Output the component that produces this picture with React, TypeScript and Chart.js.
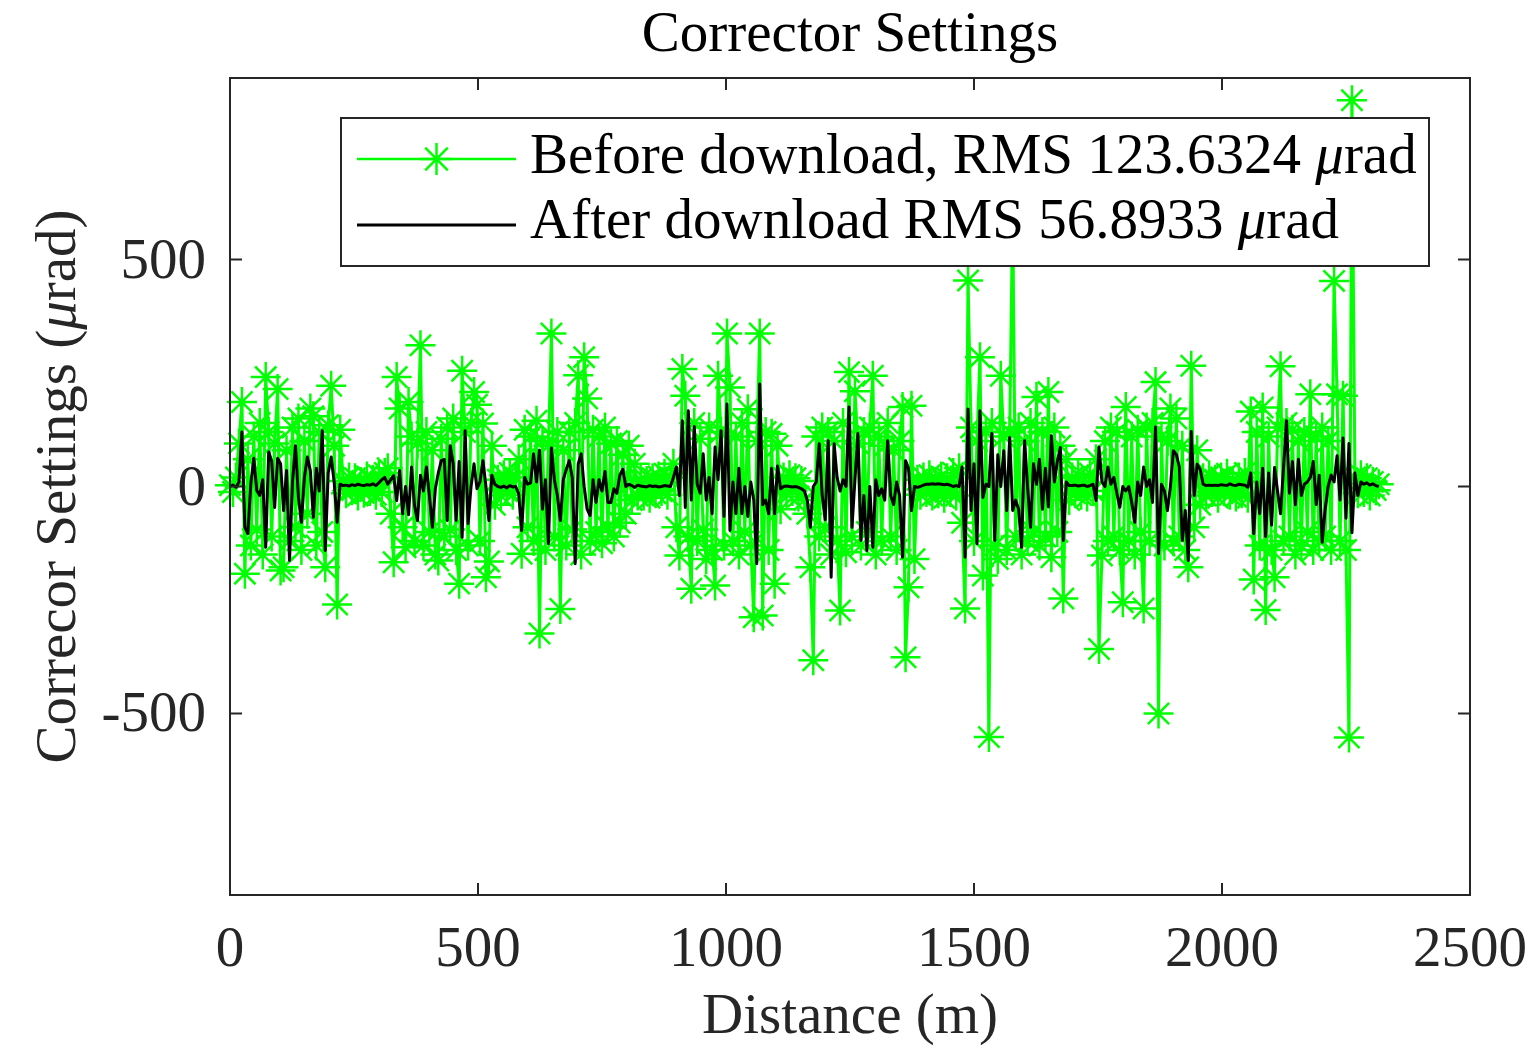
import React, { useEffect, useRef } from "react";
import { Chart, registerables } from "chart.js";

Chart.register(...registerables);

// ---------------- data ----------------
const distance = [
  0, 6, 12, 18, 24, 30, 36, 42, 48, 54, 60, 66, 72, 78, 84, 90, 96, 102, 108, 114,
  120, 126, 132, 138, 144, 150, 156, 162, 168, 174, 180, 186, 192, 198, 204, 210, 216, 222, 228, 234,
  240, 246, 252, 258, 264, 270, 276, 282, 288, 294, 300, 306, 312, 318, 324, 330, 336, 342, 348, 354,
  360, 366, 372, 378, 384, 390, 396, 402, 408, 414, 420, 426, 432, 438, 444, 450, 456, 462, 468, 474,
  480, 486, 492, 498, 504, 510, 516, 522, 528, 534, 540, 546, 552, 558, 564, 570, 576, 582, 588, 594,
  600, 606, 612, 618, 624, 630, 636, 642, 648, 654, 660, 666, 672, 678, 684, 690, 696, 702, 708, 714,
  720, 726, 732, 738, 744, 750, 756, 762, 768, 774, 780, 786, 792, 798, 804, 810, 816, 822, 828, 834,
  840, 846, 852, 858, 864, 870, 876, 882, 888, 894, 900, 906, 912, 918, 924, 930, 936, 942, 948, 954,
  960, 966, 972, 978, 984, 990, 996, 1002, 1008, 1014, 1020, 1026, 1032, 1038, 1044, 1050, 1056, 1062, 1068, 1074,
  1080, 1086, 1092, 1098, 1104, 1110, 1116, 1122, 1128, 1134, 1140, 1146, 1152, 1158, 1164, 1170, 1176, 1182, 1188, 1194,
  1200, 1206, 1212, 1218, 1224, 1230, 1236, 1242, 1248, 1254, 1260, 1266, 1272, 1278, 1284, 1290, 1296, 1302, 1308, 1314,
  1320, 1326, 1332, 1338, 1344, 1350, 1356, 1362, 1368, 1374, 1380, 1386, 1392, 1398, 1404, 1410, 1416, 1422, 1428, 1434,
  1440, 1446, 1452, 1458, 1464, 1470, 1476, 1482, 1488, 1494, 1500, 1506, 1512, 1518, 1524, 1530, 1536, 1542, 1548, 1554,
  1560, 1566, 1572, 1578, 1584, 1590, 1596, 1602, 1608, 1614, 1620, 1626, 1632, 1638, 1644, 1650, 1656, 1662, 1668, 1674,
  1680, 1686, 1692, 1698, 1704, 1710, 1716, 1722, 1728, 1734, 1740, 1746, 1752, 1758, 1764, 1770, 1776, 1782, 1788, 1794,
  1800, 1806, 1812, 1818, 1824, 1830, 1836, 1842, 1848, 1854, 1860, 1866, 1872, 1878, 1884, 1890, 1896, 1902, 1908, 1914,
  1920, 1926, 1932, 1938, 1944, 1950, 1956, 1962, 1968, 1974, 1980, 1986, 1992, 1998, 2004, 2010, 2016, 2022, 2028, 2034,
  2040, 2046, 2052, 2058, 2064, 2070, 2076, 2082, 2088, 2094, 2100, 2106, 2112, 2118, 2124, 2130, 2136, 2142, 2148, 2154,
  2160, 2166, 2172, 2178, 2184, 2190, 2196, 2202, 2208, 2214, 2220, 2226, 2232, 2238, 2244, 2250, 2256, 2262, 2268, 2274,
  2280, 2286, 2292, 2298, 2304, 2310, 2316,
];

const beforeValues = [
  // 0 - 222
  3, -12, 20, 95, 186, -192, 60, -130, 110, -95, 140, -150, 241, 120, -110, 95, 215, -185, -178, 80,
  -120, 130, -90, 150, -140, 100, -60, 172, 155, -130, 120, -100, -178, 135, 222, 90, -260, 125,
  // 228 - 312
  12, -15, 20, -8, 18, -20, 10, -14, 22, -10, 15, -18, 25, -12, 30,
  // 318 - 534
  40, -60, -167, 241, 172, -90, -134, 186, 110, -120, 95, 311, -130, 120, -100, 80, -150, -163, 105, -110,
  130, -95, 150, -140, -214, 255, 120, -130, 140, 208, 180, -120, 139, -200, -165, 90, -40,
  // 540 - 576
  15, -20, 25, -10, 30, -18, 20,
  // 582 - 822
  60, -148, 125, -90, 110, -120, 145, -324, 100, -140, 90, 337, -110, 120, -270, 80, -130, 120, -95, 140,
  245, -150, 285, 194, -120, 125, -100, 110, -125, 130, -90, 95, -110, 100, -80, 70, -60, 90, -30, 50, -20,
  // 828 - 888
  15, -20, 12, -25, 18, -15, 22, -10, 28, -18, 20,
  // 894 - 1110
  50, -90, -152, 259, 200, -110, -225, 140, -120, 105, -95, -160, 130, -140, -218, 244, 120, -130, 337, 218,
  -120, 110, -150, 140, -100, 170, -130, -288, 100, 337, -284, 120, -140, 116, -214, 90, -50,
  // 1116 - 1158
  20, -15, 25, -10, 18, -22, 12, -30,
  // 1164 - 1380
  -60, -178, -383, 110, -110, 130, -90, 120, -150, 100, -120, -273, 140, -145, 252, -110, 210, 95, -130, 120,
  -100, 130, 244, -150, 110, -120, 90, 140, -110, 80, -140, 100, 175, -376, -222, 178, -160,
  // 1386 - 1464
  15, -18, 20, -12, 25, -20, 10, -15, 22, -25, 18, -12, 30, -20,
  // 1470 - 1692
  40, -80, -269, 454, 130, -120, 100, 285, -196, 120, -552, 140, -130, -160, 244, 110, -140, 120, 620, -110,
  130, -150, 100, -120, 140, -100, 197, -130, 120, -110, 208, -156, 130, -100, 90, -247, 60, -30,
  // 1698 - 1740
  20, -15, 25, -18, 12, -22, 28, -10,
  // 1746 - 1956
  60, -358, -152, 100, -120, 130, -110, 120, -140, -255, 175, -120, 110, -150, 125, -100, -269, 130, -120, 140,
  230, -500, 110, -130, 100, 172, -120, 150, -110, 90, -140, -178, 266, -90, 80, -40,
  // 1962 - 2052
  18, -20, 25, -12, 15, -25, 20, -10, 28, -18, 12, -22, 20, -15, 30, -25,
  // 2058 - 2262
  165, -205, 120, -130, 174, -272, 110, -140, -200, 130, 265, -120, 140, -110, 125, -150, 100, -130, 120, -100,
  203, -140, 110, -120, 130, -110, 100, -140, 453, 203, -120, 200, -140, -553, 851,
  // 2268 - 2316
  20, -15, 25, -12, 18, -20, 10, -8, 5,
];

const afterValues = [
  // 0 - 222
  0, 3, -2, 10, 120, -90, -104, 6, 62, -9, -20, 15, -134, 76, 56, -46, 62, 50, -53, 35,
  -163, 10, 90, -24, -79, 20, 65, 35, -68, 40, -10, 123, -141, 30, 65, 10, -79, 5,
  // 228 - 312
  2, 3, 1, 4, 2, 5, 3, 2, 4, 3, 6, 2, 8, 15, 20,
  // 318 - 534
  5, 15, 24, -31, 35, -60, 0, -62, 43, -42, -75, 25, -10, 43, -20, -90, -5, 30, 57, 60,
  -75, 90, 50, -75, 55, -112, 123, -82, 0, 50, -5, 10, 57, 0, -75, 25, 5,
  // 540 - 576
  0, -2, 1, -3, 2, -1, 0,
  // 582 - 822
  -16, -97, 20, 5, 8, 72, 10, 80, -50, 15, -126, 85, 15, -20, -75, 15, 38, 57, 20, -170,
  50, 72, 0, -50, -64, 15, -35, 15, -10, 33, -35, -35, -5, -15, 25, 38, 0, 5, 2, -2, 3,
  // 828 - 888
  1, 0, -1, 2, 0, 1, -1, 0, 2, 1, 0,
  // 894 - 1110
  20, 43, -20, 145, -46, 167, -30, 132, 5, -15, 72, -30, 20, -60, 87, 15, 123, -66, 182, -97,
  10, -60, 40, -60, 0, -66, 10, -30, -170, 226, -40, -30, -60, 40, -60, 45, -5,
  // 1116 - 1158
  0, 1, 0, -1, 0, -2, -5, -10,
  // 1164 - 1380
  -31, -90, 0, 10, 94, -20, -73, 101, -200, 94, 20, -10, 15, 0, 175, -90, 15, 117, -119, -20,
  -141, 0, -134, 15, -20, -5, -30, 101, -20, -40, 10, -20, -156, 57, 40, -53, 0,
  // 1386 - 1464
  -2, 0, 3, 5, 5, 6, 5, 6, 5, 4, 5, 3, 0, 2,
  // 1470 - 1692
  0, 43, -156, 171, -53, 50, -126, 167, -24, 5, 0, 117, -119, 70, 0, 79, -53, 108, -53, -30,
  -50, -134, 101, 0, -90, 50, 5, 60, -50, 40, -45, 112, 10, 55, 86, -119, 10, 2,
  // 1698 - 1740
  2, 3, 1, 2, 3, 0, 2, 5,
  // 1746 - 1956
  -31, 87, 10, 0, 43, 5, 20, -15, -46, 0, -10, 0, -35, -79, 10, -20, 43, 0, 15, -35,
  131, -148, 5, -10, -53, 0, 79, 70, 43, -119, -53, -163, 121, -20, 49, 38,
  // 1962 - 2052
  5, 2, 3, 2, 3, 2, 4, 3, 2, 6, 3, 2, 5, 4, 3, -2,
  // 2058 - 2262
  30, -104, 10, -60, 40, -110, 30, -85, 42, -10, -60, 40, 145, -15, 55, -40, 60, -20, 5, 10,
  20, 55, -40, 25, -123, -50, 0, 25, 10, 68, -30, 107, -70, 95, -102,
  // 2268 - 2316
  30, -20, 10, 5, 8, 3, 6, 2, 0,
];

const xTickValues = [0, 500, 1000, 1500, 2000, 2500];
const yTickValues = [-500, 0, 500];
const xRange = [0, 2500];
const yRange = [-900, 900];

const titleText = "Corrector Settings";
const xTitleText = "Distance (m)";
const yTitleParts = [
  { t: "Correcor Settings (", italic: false },
  { t: "μ", italic: true },
  { t: "rad)", italic: false },
];
const legendRows = [
  [
    { t: "Before download, RMS 123.6324 ", italic: false },
    { t: "μ", italic: true },
    { t: "rad", italic: false },
  ],
  [
    { t: "After download RMS 56.8933 ", italic: false },
    { t: "μ", italic: true },
    { t: "rad", italic: false },
  ],
];

// ---------------- styles ----------------
const FONT_FAMILY = '"Liberation Serif", "Times New Roman", serif';
const FONT_SIZE = 57;
const AXIS_COLOR = "#262626";
const GREEN = "#00ff00";
const BLACK = "#000000";
const W = 1538;
const H = 1053;

type Part = { t: string; italic: boolean };

function fontFor(italic: boolean) {
  return `${italic ? "italic " : ""}${FONT_SIZE}px ${FONT_FAMILY}`;
}

function drawParts(
  ctx: CanvasRenderingContext2D,
  parts: Part[],
  x: number,
  y: number,
  align: "left" | "center" | "right"
) {
  const widths = parts.map((p) => {
    ctx.font = fontFor(p.italic);
    return ctx.measureText(p.t).width;
  });
  const total = widths.reduce((a, b) => a + b, 0);
  let cx = align === "left" ? x : align === "center" ? x - total / 2 : x - total;
  ctx.textAlign = "left";
  parts.forEach((p, i) => {
    ctx.font = fontFor(p.italic);
    ctx.fillText(p.t, cx, y);
    cx += widths[i];
  });
}

function drawStar(ctx: CanvasRenderingContext2D, x: number, y: number, r: number) {
  const d = r * Math.SQRT1_2;
  ctx.beginPath();
  ctx.moveTo(x - r, y);
  ctx.lineTo(x + r, y);
  ctx.moveTo(x, y - r);
  ctx.lineTo(x, y + r);
  ctx.moveTo(x - d, y - d);
  ctx.lineTo(x + d, y + d);
  ctx.moveTo(x - d, y + d);
  ctx.lineTo(x + d, y - d);
  ctx.stroke();
}

const overlayPlugin = {
  id: "matlabOverlay",
  afterDatasetsDraw(chart: any) {
    const { ctx, chartArea: a, scales } = chart;
    const xs = scales.x;
    const ys = scales.y;
    ctx.save();

    // frame
    ctx.strokeStyle = AXIS_COLOR;
    ctx.lineWidth = 2;
    ctx.strokeRect(a.left, a.top, a.right - a.left, a.bottom - a.top);

    // inner ticks
    const tl = 12;
    ctx.beginPath();
    xTickValues.forEach((v) => {
      const px = xs.getPixelForValue(v);
      ctx.moveTo(px, a.bottom);
      ctx.lineTo(px, a.bottom - tl);
      ctx.moveTo(px, a.top);
      ctx.lineTo(px, a.top + tl);
    });
    yTickValues.forEach((v) => {
      const py = ys.getPixelForValue(v);
      ctx.moveTo(a.left, py);
      ctx.lineTo(a.left + tl, py);
      ctx.moveTo(a.right, py);
      ctx.lineTo(a.right - tl, py);
    });
    ctx.stroke();

    // tick labels
    ctx.fillStyle = AXIS_COLOR;
    ctx.font = fontFor(false);
    ctx.textBaseline = "alphabetic";
    ctx.textAlign = "center";
    xTickValues.forEach((v) => {
      ctx.fillText(String(v), xs.getPixelForValue(v), a.bottom + 71);
    });
    ctx.textAlign = "right";
    yTickValues.forEach((v) => {
      ctx.fillText(String(v), a.left - 24, ys.getPixelForValue(v) + 18);
    });

    // title and x label
    const cx = (a.left + a.right) / 2;
    ctx.textAlign = "center";
    ctx.fillStyle = "#000000";
    ctx.fillText(titleText, cx, a.top - 27);
    ctx.fillStyle = AXIS_COLOR;
    ctx.fillText(xTitleText, cx, a.bottom + 138);

    // y label
    ctx.save();
    ctx.translate(a.left - 155, (a.top + a.bottom) / 2);
    ctx.rotate(-Math.PI / 2);
    drawParts(ctx, yTitleParts, 0, 0, "center");
    ctx.restore();

    // legend box
    const bx = a.left + 111;
    const by = a.top + 40;
    const bw = 1088;
    const bh = 148;
    ctx.fillStyle = "#ffffff";
    ctx.fillRect(bx, by, bw, bh);
    ctx.strokeStyle = AXIS_COLOR;
    ctx.lineWidth = 2;
    ctx.strokeRect(bx, by, bw, bh);

    const lineX0 = bx + 16;
    const lineX1 = bx + 175;
    const row1Y = by + 41;
    const row2Y = by + 107;

    ctx.lineCap = "butt";
    ctx.strokeStyle = GREEN;
    ctx.lineWidth = 2.5;
    ctx.beginPath();
    ctx.moveTo(lineX0, row1Y);
    ctx.lineTo(lineX1, row1Y);
    ctx.stroke();
    drawStar(ctx, (lineX0 + lineX1) / 2, row1Y, 16);

    ctx.strokeStyle = BLACK;
    ctx.lineWidth = 3;
    ctx.beginPath();
    ctx.moveTo(lineX0, row2Y);
    ctx.lineTo(lineX1, row2Y);
    ctx.stroke();

    ctx.fillStyle = "#000000";
    ctx.textBaseline = "alphabetic";
    drawParts(ctx, legendRows[0], bx + 189, row1Y + 14, "left");
    drawParts(ctx, legendRows[1], bx + 189, row2Y + 13, "left");

    ctx.restore();
  },
};

export default function App() {
  const canvasRef = useRef<HTMLCanvasElement | null>(null);

  useEffect(() => {
    const canvas = canvasRef.current;
    if (!canvas) return;
    const beforePoints = distance.map((d, i) => ({ x: d, y: beforeValues[i] }));
    const afterPoints = distance.map((d, i) => ({ x: d, y: afterValues[i] }));

    const chart = new Chart(canvas, {
      type: "line",
      data: {
        datasets: [
          {
            label: "Before download",
            data: beforePoints,
            borderColor: GREEN,
            backgroundColor: GREEN,
            borderWidth: 3,
            pointStyle: "star",
            pointRadius: 15,
            pointBorderColor: GREEN,
            pointBorderWidth: 2.5,
            pointBackgroundColor: GREEN,
            pointHoverRadius: 15,
            fill: false,
            tension: 0,
            borderJoinStyle: "round",
            order: 1,
            clip: false,
          } as any,
          {
            label: "After download",
            data: afterPoints,
            borderColor: BLACK,
            backgroundColor: BLACK,
            borderWidth: 3,
            pointRadius: 0,
            pointHoverRadius: 0,
            fill: false,
            tension: 0,
            borderJoinStyle: "round",
            order: 0,
            clip: false,
          } as any,
        ],
      },
      options: {
        animation: false,
        responsive: false,
        maintainAspectRatio: false,
        devicePixelRatio: 1,
        events: [],
        layout: { padding: { left: 230, top: 78, right: W - 1470, bottom: H - 895 } },
        scales: {
          x: { type: "linear", min: xRange[0], max: xRange[1], display: false },
          y: { type: "linear", min: yRange[0], max: yRange[1], display: false },
        },
        plugins: {
          legend: { display: false },
          tooltip: { enabled: false },
          title: { display: false },
        },
      },
      plugins: [overlayPlugin],
    });
    return () => chart.destroy();
  }, []);

  return (
    <div
      style={{
        position: "fixed",
        left: 0,
        top: 0,
        width: W,
        height: H,
        background: "#ffffff",
      }}
    >
      <canvas ref={canvasRef} width={W} height={H} style={{ width: W, height: H, display: "block" }} />
    </div>
  );
}
